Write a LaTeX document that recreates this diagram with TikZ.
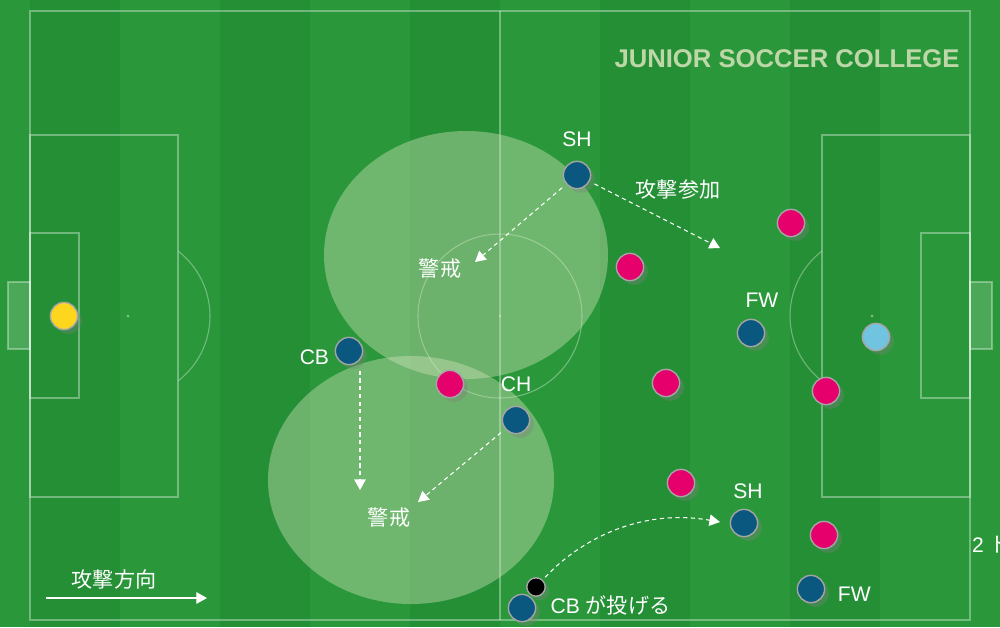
\documentclass[tikz,border=0pt]{standalone}
\usepackage{fontspec}
\setmainfont{Liberation Sans}
\newfontfamily\jp{Noto Sans CJK JP}
\usetikzlibrary{arrows.meta,positioning,shadows}

\definecolor{turf}{RGB}{42,152,58}
\definecolor{turfdark}{RGB}{37,143,54}
\definecolor{homeblue}{RGB}{10,88,128}
\definecolor{awaypink}{RGB}{229,0,108}
\definecolor{keeperyellow}{RGB}{255,214,30}
\definecolor{keeperblue}{RGB}{112,196,224}
\definecolor{ringgray}{RGB}{165,165,165}
\definecolor{titlegreen}{RGB}{190,215,168}
\definecolor{zonetint}{RGB}{215,230,190}

\begin{document}
\begin{tikzpicture}[x=0.02cm,y=-0.02cm,>={Triangle[width=6.5pt,length=6pt]},font=\fontsize{12}{14}\selectfont]
\tikzstyle{player}=[circle,draw=ringgray,line width=0.8pt,minimum size=15.5pt,inner sep=0pt,drop shadow={shadow xshift=2.4pt,shadow yshift=-2.4pt,opacity=0.35}]
\tikzstyle{home}=[player,fill=homeblue]
\tikzstyle{away}=[player,fill=awaypink]
\tikzstyle{ball}=[player,fill=black,minimum size=10.5pt]
\tikzstyle{lbl}=[text=white,inner sep=1pt]
\tikzstyle{jplbl}=[lbl,font=\jp\fontsize{12}{14}\selectfont]
\tikzstyle{pitchline}=[draw=white,draw opacity=0.35,line width=0.6pt]
\tikzstyle{zone}=[fill=zonetint,fill opacity=0.4]
\tikzstyle{dasharrow}=[->,white,line width=0.6pt,dash pattern=on 2.4pt off 2pt]

\clip (0,0) rectangle (1000,627);
\fill[turf] (0,0) rectangle (1000,627);
\foreach \sx in {30,220,410,600,790}
  \fill[turfdark] (\sx,0) rectangle ++(90,627);

% pitch
\draw[pitchline] (30,11) rectangle (970,620);
\draw[pitchline] (500,11) -- (500,620);
\draw[pitchline] (500,316) circle (82);
\fill[white,opacity=0.4] (500,316) circle (1.5);
\draw[pitchline] (30,135) rectangle (178,497);
\draw[pitchline] (30,233) rectangle (79,398);
\draw[pitchline,fill=white,fill opacity=0.16] (8,282) rectangle (30,349);
\draw[pitchline] (128,316) ++(-52.4:82) arc (-52.4:52.4:82);
\fill[white,opacity=0.4] (128,316) circle (1.5);
\draw[pitchline] (822,135) rectangle (970,497);
\draw[pitchline] (921,233) rectangle (970,398);
\draw[pitchline,fill=white,fill opacity=0.16] (970,282) rectangle (992,349);
\draw[pitchline] (872,316) ++(127.6:82) arc (127.6:232.4:82);
\fill[white,opacity=0.4] (872,316) circle (1.5);

\node[text=titlegreen,font=\bfseries\fontsize{14.6}{16}\selectfont] (title) at (787,59) {JUNIOR SOCCER COLLEGE};

% zones
\fill[zone] (466,255) ellipse [x radius=142, y radius=124];
\fill[zone] (411,480) ellipse [x radius=143, y radius=124];

% players
\node[player,fill=keeperyellow] (gk)  at (64,316)  {};
\node[player,fill=keeperblue]   (ogk) at (876,337) {};

\node[home] (sh1) at (577,175) {};
\node[home] (cb1) at (349,351) {};
\node[home] (ch)  at (516,420) {};
\node[home] (fw1) at (751,333) {};
\node[home] (sh2) at (744,523) {};
\node[home] (fw2) at (811,589) {};
\node[home] (cb2) at (522,608) {};
\node[ball] (ball) at (536,587) {};

\node[away] (p1) at (791,223) {};
\node[away] (p2) at (630,267) {};
\node[away] (p3) at (450,384) {};
\node[away] (p4) at (666,383) {};
\node[away] (p5) at (826,391) {};
\node[away] (p6) at (681,483) {};
\node[away] (p7) at (824,535) {};

% labels
\node[lbl] (lsh1) [above=7pt of sh1] {SH};
\node[lbl] (lcb1) [left=2pt of cb1,yshift=-3.4pt] {CB};
\node[lbl] (lch)  [above=7pt of ch] {CH};
\node[lbl] (lfw1) [above=5pt of fw1,xshift=6.2pt] {FW};
\node[lbl] (lsh2) [above=4.5pt of sh2,xshift=2.3pt] {SH};
\node[lbl] (lfw2) [right=6pt of fw2,yshift=-2.8pt] {FW};
\node[lbl] (lcb2) [right=7pt of cb2,yshift=1.7pt] {CB {\jp が投げる}};

\coordinate (k1) at (475,262);
\coordinate (k2) at (720,248);
\coordinate (k3) at (360,490);
\coordinate (k4) at (418,502);
\coordinate (k5) at (720,522);
\node[jplbl] (warn1)  at (440,268) {警戒};
\node[jplbl] (attack) at (678,190) {攻撃参加};
\node[jplbl] (warn2)  at (389,517) {警戒};

% runs
\draw[dasharrow,shorten <=3pt] (sh1) -- (k1);
\draw[dasharrow,shorten <=3pt] (sh1) -- (k2);
\draw[dasharrow,shorten <=3pt] (k3 |- cb1.south) -- (k3);
\draw[dasharrow,shorten <=3pt] (ch) -- (k4);
\draw[dasharrow,shorten <=2pt] (ball) .. controls (580,540) and (640,508) .. (k5);

% attacking direction
\node[jplbl] (dir) at (114,579) {攻撃方向};
\coordinate (d0) at (46,598);
\coordinate (d1) at (207,598);
\draw[->,white,line width=0.6pt] (d0) -- (d1);

\node[lbl,anchor=west] (cut) at (970,545) {2 {\jp ト}};
\end{tikzpicture}
\end{document}
